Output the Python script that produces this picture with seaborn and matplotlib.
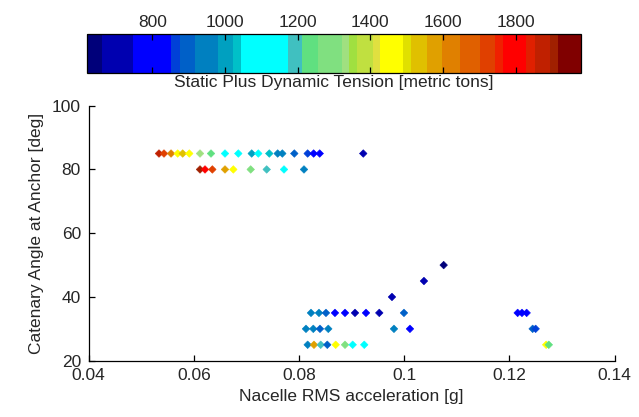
import numpy as np
import pandas as pd
import matplotlib
matplotlib.use("Agg")
import matplotlib.pyplot as plt
from matplotlib.colors import ListedColormap, BoundaryNorm
from matplotlib.ticker import NullLocator
import matplotlib.cm as cm
import seaborn as sns

# ---- data ----
accel_85 = [0.05338, 0.05433, 0.05567, 0.05694, 0.05789, 0.05914, 0.06118, 0.06327,
            0.06593, 0.06846, 0.07101, 0.07226, 0.07435, 0.07595, 0.07683, 0.07911,
            0.08165, 0.08279, 0.08394, 0.09222]
tension_85 = [1870, 1720, 1620, 1460, 1530, 1450, 1330, 1235,
              1100, 1110, 1000, 1120, 1030, 950, 960, 890,
              860, 800, 790, 700]

accel_80 = [0.06118, 0.06213, 0.06352, 0.06593, 0.06751, 0.07082, 0.07386, 0.07715, 0.08095]
tension_80 = [1900, 1800, 1720, 1570, 1460, 1290, 1190, 1100, 950]

accel_50 = [0.10751]
tension_50 = [650]
accel_45 = [0.10376]
tension_45 = [680]
accel_40 = [0.09768]
tension_40 = [700]

accel_35 = [0.08228, 0.08380, 0.08513, 0.08684, 0.08875, 0.09065, 0.09274, 0.09527,
            0.09996, 0.12158, 0.12240, 0.12329]
tension_35 = [950, 960, 890, 800, 790, 700, 760, 700, 890, 790, 800, 790]

accel_30 = [0.08133, 0.08272, 0.08399, 0.08557, 0.09806, 0.10110, 0.12443, 0.12500]
tension_30 = [950, 960, 890, 950, 930, 800, 880, 870]

accel_25 = [0.08165, 0.08285, 0.08413, 0.08538, 0.08698, 0.08875, 0.09021, 0.09241,
            0.12700, 0.12750]
tension_25 = [950, 1570, 1190, 890, 1460, 1290, 1110, 1100, 1460, 1250]

angles = [85, 80, 50, 45, 40, 35, 30, 25]
accels = [accel_85, accel_80, accel_50, accel_45, accel_40, accel_35, accel_30, accel_25]
tensions = [tension_85, tension_80, tension_50, tension_45, tension_40, tension_35,
            tension_30, tension_25]

x_ticks = [0.04, 0.06, 0.08, 0.10, 0.12, 0.14]
y_ticks = [20, 40, 60, 80, 100]
cbar_ticks = [800, 1000, 1200, 1400, 1600, 1800]

df = pd.DataFrame({
    "accel": np.concatenate(accels),
    "angle": np.concatenate([[a] * len(x) for a, x in zip(angles, accels)]),
    "tension": np.concatenate(tensions),
})

# ---- colour scale (segmented, as in the reference colorbar) ----
bounds = [620, 662, 747, 852, 875, 917, 981, 1022, 1045, 1174, 1213, 1256, 1321, 1342,
          1362, 1406, 1426, 1490, 1513, 1555, 1596, 1647, 1702, 1743, 1766, 1828, 1853,
          1895, 1917, 1980]
seg_colors = ["#00007a", "#0000b0", "#0000ff", "#0040d8", "#0060c8", "#0080c0",
              "#00a0c0", "#00c0c8", "#00ffff", "#40c0c0", "#60e080", "#80e080",
              "#a0e080", "#a0e040", "#c0e040", "#e0e040", "#ffff00", "#e0e000",
              "#e0c000", "#e0a000", "#e08000", "#e06000", "#e04000", "#f02000",
              "#ff0000", "#e02000", "#c02000", "#a02000", "#800000"]
cmap = ListedColormap(seg_colors)
norm = BoundaryNorm(bounds, cmap.N)

# ---- figure ----
sns.set_style("white")
plt.rcParams["font.family"] = ["Liberation Sans", "DejaVu Sans"]
text_color = "#262626"

fig = plt.figure(figsize=(6.39, 4.17), dpi=100)
ax = fig.add_axes([0.1387, 0.1350, 0.8230, 0.6115])
cax = fig.add_axes([0.1362, 0.8242, 0.7730, 0.0950])

sns.scatterplot(data=df, x="accel", y="angle", hue="tension", palette=cmap,
                hue_norm=norm, marker="D", s=15, linewidth=0.4, legend=False, ax=ax)
for coll in ax.collections:
    coll.set_edgecolor("face")

ax.set_xlim(0.04, 0.14)
ax.set_ylim(20, 100)
ax.set_xticks(x_ticks)
ax.set_xticklabels([f"{t:g}" for t in x_ticks])
ax.set_yticks(y_ticks)
ax.set_yticklabels([str(t) for t in y_ticks])
ax.tick_params(direction="in", length=4.5, width=0.9, colors="black",
               bottom=True, left=True, top=False, right=False,
               labelsize=12.5, labelcolor=text_color, pad=5.5)
for side in ["top", "right"]:
    ax.spines[side].set_visible(False)
for side in ["left", "bottom"]:
    ax.spines[side].set_color("black")
    ax.spines[side].set_linewidth(0.9)
ax.set_xlabel("Nacelle RMS acceleration [g]", fontsize=12.5, color=text_color, labelpad=4)
ax.set_ylabel("Catenary Angle at Anchor [deg]", fontsize=12.5, color=text_color, labelpad=6)

sm = cm.ScalarMappable(cmap=cmap, norm=norm)
cb = fig.colorbar(sm, cax=cax, orientation="horizontal", spacing="proportional",
                  ticks=cbar_ticks)
cb.minorticks_off()
cax.xaxis.set_minor_locator(NullLocator())
cax.set_axisbelow(False)
cb.outline.set_linewidth(0.9)
cb.outline.set_edgecolor("black")
cax.tick_params(axis="x", which="major", direction="in", length=4.5, width=0.9,
                colors="black", top=True, bottom=True,
                labeltop=True, labelbottom=False, labelsize=12.5,
                labelcolor=text_color, pad=3)
cax.set_xticklabels([str(t) for t in cbar_ticks])
cax.xaxis.set_label_position("bottom")
cax.set_xlabel("Static Plus Dynamic Tension [metric tons]", fontsize=12.5,
               color=text_color, labelpad=1)

fig.savefig("out.png", dpi=100, facecolor="white")
